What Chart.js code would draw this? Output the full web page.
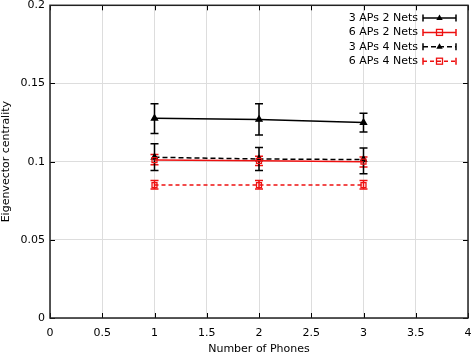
<!DOCTYPE html>
<html><head><meta charset="utf-8">
<script src="https://cdn.jsdelivr.net/npm/chart.js@4/dist/chart.umd.min.js"></script>
<style>html,body{margin:0;padding:0;background:#fff;overflow:hidden}#wrap{width:474px;height:360px}</style>
</head><body><div id="wrap"><canvas id="c" width="474" height="360"></canvas></div>
<script>
const phones = [1, 2, 3];
const xTickLabels = ['0','0.5','1','1.5','2','2.5','3','3.5','4'];
const yTickLabels = ['0','0.05','0.1','0.15','0.2'];
const seriesNames = ['3 APs 2 Nets','6 APs 2 Nets','3 APs 4 Nets','6 APs 4 Nets'];
const ap3net2Mean = [0.1277, 0.127, 0.125];
const ap3net2Low  = [0.118, 0.117, 0.119];
const ap3net2High = [0.137, 0.137, 0.131];
const ap6net2Mean = [0.101, 0.1005, 0.1];
const ap6net2Low  = [0.098, 0.0975, 0.0965];
const ap6net2High = [0.1045, 0.1035, 0.103];
const ap3net4Mean = [0.1028, 0.1017, 0.1013];
const ap3net4Low  = [0.0944, 0.0944, 0.0923];
const ap3net4High = [0.1115, 0.109, 0.1088];
const ap6net4Mean = [0.085, 0.085, 0.085];
const ap6net4Low  = [0.0825, 0.0825, 0.0825];
const ap6net4High = [0.088, 0.088, 0.088];

const FONT = 'DejaVu Sans';
const means = [ap3net2Mean, ap6net2Mean, ap3net4Mean, ap6net4Mean];
const lows = [ap3net2Low, ap6net2Low, ap3net4Low, ap6net4Low];
const highs = [ap3net2High, ap6net2High, ap3net4High, ap6net4High];
const colors = ['#000000', '#ee1111', '#000000', '#ee1111'];
const dashes = [[], [], [5, 3], [4, 3]];
const styles = ['triangle', 'rect', 'triangle', 'rect'];

const datasets = seriesNames.map((name, i) => ({
  label: name,
  data: phones.map((p, j) => ({x: p, y: means[i][j]})),
  lows: lows[i], highs: highs[i],
  borderColor: colors[i],
  backgroundColor: styles[i] === 'rect' ? 'rgba(255,255,255,0)' : colors[i],
  borderWidth: 1.5,
  borderDash: dashes[i],
  pointStyle: styles[i],
  pointRadius: 3.5,
  pointBorderWidth: 1.3,
  pointBackgroundColor: styles[i] === 'rect' ? 'rgba(255,255,255,0)' : colors[i],
  showLine: true,
  tension: 0
}));

function drawMarker(ctx, style, x, y, color) {
  ctx.save();
  ctx.setLineDash([]);
  ctx.strokeStyle = color; ctx.fillStyle = color; ctx.lineWidth = 1.3;
  if (style === 'triangle') {
    ctx.beginPath(); ctx.moveTo(x, y - 3.5); ctx.lineTo(x + 3.2, y + 2); ctx.lineTo(x - 3.2, y + 2); ctx.closePath(); ctx.fill();
  } else {
    ctx.strokeRect(x - 3, y - 3, 6, 6);
  }
  ctx.restore();
}

const framePlugin = {
  id: 'frame',
  beforeDatasetsDraw(chart) {
    const ctx = chart.ctx, xs = chart.scales.x, ys = chart.scales.y;
    ctx.save();
    chart.data.datasets.forEach((ds, i) => {
      ctx.strokeStyle = ds.borderColor; ctx.lineWidth = 1.5; ctx.setLineDash([]);
      ds.data.forEach((pt, j) => {
        const px = xs.getPixelForValue(pt.x);
        const lo = ys.getPixelForValue(ds.lows[j]);
        const hi = ys.getPixelForValue(ds.highs[j]);
        ctx.beginPath();
        ctx.moveTo(px, lo); ctx.lineTo(px, hi);
        ctx.moveTo(px - 4, lo); ctx.lineTo(px + 4, lo);
        ctx.moveTo(px - 4, hi); ctx.lineTo(px + 4, hi);
        ctx.stroke();
      });
    });
    ctx.restore();
  },
  afterDraw(chart) {
    const ctx = chart.ctx, a = chart.chartArea, xs = chart.scales.x, ys = chart.scales.y;
    ctx.save();
    ctx.strokeStyle = '#000'; ctx.lineWidth = 1; ctx.setLineDash([]);
    ctx.beginPath();
    xs.ticks.forEach(t => {
      const px = Math.round(xs.getPixelForValue(t.value)) + 0.5;
      ctx.moveTo(px, a.bottom); ctx.lineTo(px, a.bottom - 5);
      ctx.moveTo(px, a.top); ctx.lineTo(px, a.top + 5);
    });
    ys.ticks.forEach(t => {
      const py = Math.round(ys.getPixelForValue(t.value)) + 0.5;
      ctx.moveTo(a.left, py); ctx.lineTo(a.left + 5, py);
      ctx.moveTo(a.right, py); ctx.lineTo(a.right - 5, py);
    });
    ctx.stroke();
    ctx.lineWidth = 1.5; ctx.strokeStyle = '#222';
    ctx.strokeRect(a.left, a.top, a.right - a.left, a.bottom - a.top);
    // legend
    ctx.font = '11px "' + FONT + '"';
    ctx.textAlign = 'right'; ctx.textBaseline = 'middle'; ctx.fillStyle = '#000';
    const tx = 418, lx0 = 423, lx1 = 456;
    chart.data.datasets.forEach((ds, i) => {
      const y = 18 + i * 14.4;
      ctx.fillStyle = '#000';
      ctx.fillText(ds.label, tx, y);
      ctx.strokeStyle = ds.borderColor; ctx.lineWidth = 1.5;
      ctx.setLineDash(ds.borderDash);
      ctx.beginPath(); ctx.moveTo(lx0, y); ctx.lineTo(lx1, y); ctx.stroke();
      ctx.setLineDash([]);
      ctx.beginPath();
      ctx.moveTo(lx0, y - 3.5); ctx.lineTo(lx0, y + 3.5);
      ctx.moveTo(lx1, y - 3.5); ctx.lineTo(lx1, y + 3.5);
      ctx.stroke();
      drawMarker(ctx, ds.pointStyle, (lx0 + lx1) / 2, y, ds.borderColor);
    });
    ctx.restore();
  }
};

new Chart(document.getElementById('c'), {
  type: 'scatter',
  data: { datasets },
  options: {
    responsive: false,
    animation: false,
    layout: { padding: { top: 0, right: 0, left: 0, bottom: 0 } },
    plugins: { legend: { display: false }, tooltip: { enabled: false } },
    scales: {
      x: {
        type: 'linear', min: 0, max: 4,
        afterFit(s) { s.height = 42; s.paddingRight = 6; },
        ticks: { stepSize: 0.5, padding: 9, color: '#000', font: { family: FONT, size: 11 },
          callback: (v, i) => xTickLabels[i] },
        grid: { color: '#dddddd', lineWidth: 1, drawTicks: false },
        border: { display: false },
        title: { display: true, text: 'Number of Phones', color: '#000', font: { family: FONT, size: 11 }, padding: { top: 0, bottom: 4 } }
      },
      y: {
        type: 'linear', min: 0, max: 0.2,
        afterFit(s) { s.width = 50; s.paddingTop = 5; },
        ticks: { stepSize: 0.05, padding: 5, color: '#000', font: { family: FONT, size: 11 },
          callback: (v, i) => yTickLabels[i] },
        grid: { color: '#dddddd', lineWidth: 1, drawTicks: false },
        border: { display: false },
        title: { display: true, text: 'Eigenvector centrality', color: '#000', font: { family: FONT, size: 11 }, padding: { top: 0, bottom: 0 } }
      }
    }
  },
  plugins: [framePlugin]
});
</script>
</body></html>
